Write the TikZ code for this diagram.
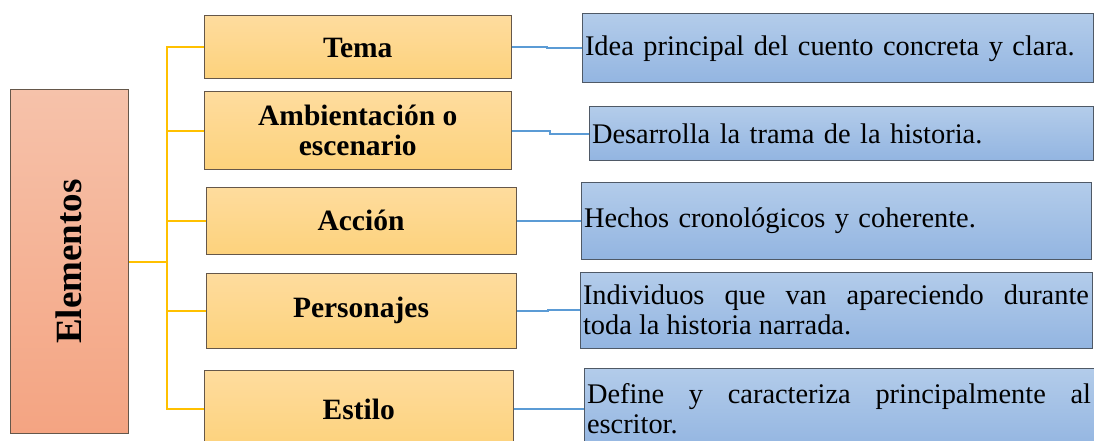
\documentclass[tikz,border=0pt]{standalone}
\usepackage{fontspec}
\setmainfont{Liberation Serif}
\usetikzlibrary{calc}
\definecolor{eltop}{HTML}{F6C2AA}
\definecolor{elbot}{HTML}{F4A482}
\definecolor{temtop}{HTML}{FEDC9E}
\definecolor{tembot}{HTML}{FDD27C}
\definecolor{destop}{HTML}{B3CCEA}
\definecolor{desbot}{HTML}{93B5E1}
\definecolor{warmline}{HTML}{65574A}
\definecolor{coolline}{HTML}{4F5966}
\definecolor{linkyel}{HTML}{FFC000}
\definecolor{linkblue}{HTML}{5B9BD5}
\hyphenpenalty=10000
\exhyphenpenalty=10000
\tikzset{
elem/.style={draw=warmline,line width=1pt,top color=eltop,bottom color=elbot,font=\bfseries\fontsize{37}{40}\selectfont,inner sep=0pt},
tema/.style={draw=warmline,line width=1pt,top color=temtop,bottom color=tembot,font=\bfseries\fontsize{29.5}{30}\selectfont,align=center,inner sep=0pt},
desc/.style={draw=coolline,line width=1pt,top color=destop,bottom color=desbot,font=\fontsize{28.4}{30}\selectfont,align=left,inner xsep=3pt,inner ysep=0pt},
ylink/.style={line width=2pt,draw=linkyel},
blink/.style={line width=2pt,draw=linkblue},
elbow/.style={to path={-| ($(\tikztostart)!.5!(\tikztotarget)$) |- (\tikztotarget)}}
}
\begin{document}
\begin{tikzpicture}[x=1pt,y=-1pt]
\useasboundingbox (0,0) rectangle (1094,441);
\node[elem,rotate=90,minimum width=343pt,minimum height=118.5pt] (el) at (69.25,261.5) {Elementos};
\node[tema,minimum width=306.5pt,minimum height=63pt] (t1) at (357.75,47.5) {Tema};
\node[tema,minimum width=306.5pt,minimum height=77pt] (t2) at (357.75,130.5) {Ambientación o\\escenario};
\node[tema,minimum width=310pt,minimum height=67pt] (t3) at (361,220.5) {Acción};
\node[tema,minimum width=310pt,minimum height=75pt] (t4) at (361,310.5) {Personajes};
\node[tema,minimum width=308.5pt,minimum height=78pt] (t5) at (358.75,409) {Estilo};
\node[desc,text width=505pt,minimum height=69pt] (d1) at (837.5,48.5) {Idea principal del cuento concreta y clara.};
\node[desc,text width=498pt,minimum height=53pt] (d2) at (841,133.5) {Desarrolla la trama de la historia.};
\node[desc,text width=504pt,minimum height=77pt] (d3) at (836,220.5) {Hechos cronológicos y coherente.};
\node[desc,text width=506pt,minimum height=76pt,align=justify] (d4) at (836,310) {Individuos que van apareciendo durante\linebreak toda la historia narrada.};
\node[desc,text width=504pt,minimum height=81pt,align=justify] (d5) at (839,408.5) {Define y caracteriza principalmente al\linebreak escritor.};
\coordinate (hub) at (166.5,261.5);
\draw[ylink] (el.south) -- (hub);
\foreach \t in {t1,t2,t3,t4,t5}\draw[ylink] (hub) |- (\t.west);
\foreach \t/\d in {t1/d1,t2/d2,t3/d3,t4/d4,t5/d5}\draw[blink] (\t.east) to[elbow] (\d.west);
\end{tikzpicture}
\end{document}
